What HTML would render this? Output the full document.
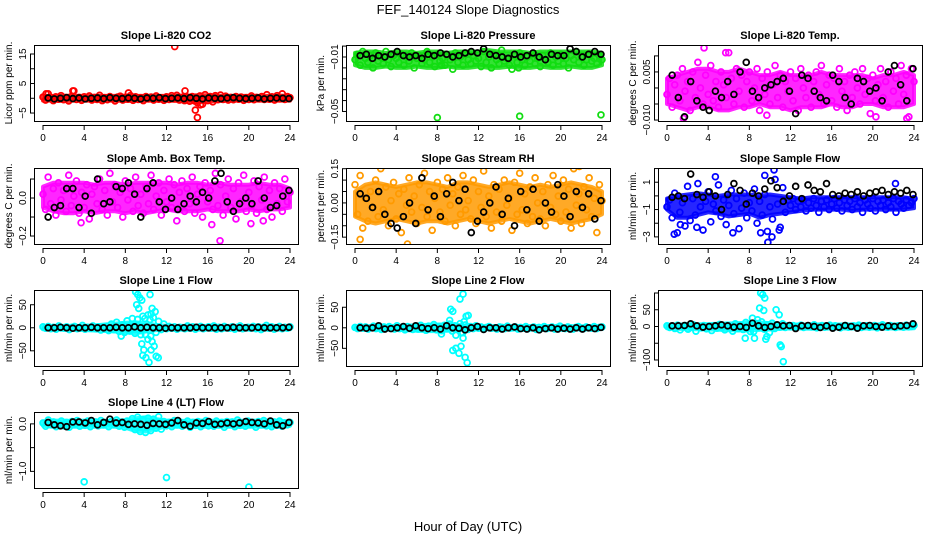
<!DOCTYPE html>
<html><head><meta charset="utf-8">
<style>
html,body{margin:0;padding:0;background:#fff;}
svg{display:block;font-family:"Liberation Sans",Arial,sans-serif;}
</style></head>
<body>
<svg id="chart" width="936" height="540" viewBox="0 0 936 540" xmlns="http://www.w3.org/2000/svg">
<text x="468" y="14" text-anchor="middle" font-size="13">FEF_140124  Slope Diagnostics</text>
<text x="468" y="531" text-anchor="middle" font-size="13">Hour of Day (UTC)</text>
</svg>
<script>
// ---------- data ----------
const xTicks = [0,4,8,12,16,20,24];

const co2Color = [0.4,-0.6,1.5,0.2,-0.8,0.5,-0.3,0.9,-0.5,0.2,-0.9,0.6,2.5,-0.4,0.3,-0.7,0.5,-0.2,0.8,-0.6,0.3,-0.4,1.0,-0.8,
0.2,-0.5,0.6,-0.2,-0.9,0.4,0.7,-0.6,0.3,-0.3,0.9,-0.7,0.5,-0.4,0.2,-0.8,0.6,-0.2,0.4,-0.6,0.8,-0.3,0.1,-0.7,
0.5,-0.4,0.9,-0.2,1.0,-0.6,0.3,-0.8,0.4,-1.0,0.6,-0.9,-1.5,0.8,-2.0,1.2,-0.8,0.6,-1.2,0.9,-0.5,1.1,-0.4,0.7,
-0.6,0.3,-0.5,0.6,-0.3,0.4,-0.7,0.2,-0.4,0.8,-0.5,0.3,-0.2,0.6,-0.4,1.2,-0.3,0.5,-0.6,0.9,-0.2,1.5,-0.4,0.6,0.2];
const co2Black = [0.1,-0.2,0,0.2,-0.1,0.1,-0.2,0,0.1,-0.1,0.2,0,-0.1,0.1,0,-0.2,0.1,0,0.2,-0.1,0,0.1,-0.1,0.2,0,-0.2,0.1,0,-0.1,0.1,0.2,0,-0.1,0,0.1,-0.2,0,0.1,0,-0.1];
const co2OutH = [12.8,2.9,8.3,13.8,14.8,15.0,15.3,0.3];
const co2OutV = [17.5,2.5,1.8,2.5,-4.0,-6.5,-2.2,1.5];
const co2BandHi = [0.8,0.8,0.9,0.8,0.8,0.8,0.8,0.8,0.9,0.8,0.8,0.8,0.8,0.9,0.9,1.0,1.0,0.9,0.8,0.8,0.8,0.8,0.8,0.9,0.8];
const co2BandLo = [-0.8,-0.8,-0.9,-0.8,-0.8,-0.8,-0.8,-0.8,-0.9,-0.8,-0.8,-0.8,-0.8,-0.9,-1.2,-1.4,-1.2,-0.9,-0.8,-0.8,-0.8,-0.8,-0.8,-0.8,-0.8];

const presColor = [-0.012,-0.008,-0.016,-0.006,-0.011,-0.014,-0.009,-0.018,-0.007,-0.013,-0.010,-0.015,-0.006,-0.012,-0.017,-0.009,-0.011,-0.014,-0.008,-0.016,-0.010,-0.013,-0.007,-0.018,
-0.011,-0.009,-0.015,-0.012,-0.006,-0.014,-0.010,-0.017,-0.008,-0.013,-0.011,-0.016,-0.009,-0.012,-0.019,-0.007,-0.014,-0.010,-0.016,-0.008,-0.012,-0.015,-0.009,-0.013,
-0.011,-0.017,-0.006,-0.014,-0.010,-0.018,-0.008,-0.012,-0.015,-0.005,-0.013,-0.011,-0.016,-0.019,-0.009,-0.014,-0.007,-0.012,-0.016,-0.010,-0.013,-0.008,-0.015,-0.011,
-0.017,-0.009,-0.012,-0.014,-0.007,-0.016,-0.010,-0.013,-0.008,-0.015,-0.011,-0.018,-0.009,-0.012,-0.006,-0.014,-0.010,-0.016,-0.012,-0.008,-0.013,-0.011,-0.015,-0.009,-0.012];
const presBlack = [-0.009,-0.008,-0.011,-0.009,-0.010,-0.008,-0.006,-0.009,-0.010,-0.009,-0.011,-0.008,-0.009,-0.007,-0.008,-0.010,-0.009,-0.007,-0.006,-0.007,-0.004,-0.008,-0.009,-0.010,-0.011,-0.008,-0.010,-0.009,-0.007,-0.010,-0.012,-0.008,-0.009,-0.009,-0.004,-0.006,-0.010,-0.008,-0.006,-0.008];
const presOutH = [8.0,16.0,23.9,15.9,8.4];
const presOutV = [-0.0545,-0.0535,-0.0525,-0.018,-0.016];
const presBandHi = [-0.007,-0.006,-0.006,-0.007,-0.006,-0.006,-0.007,-0.006,-0.006,-0.007,-0.006,-0.006,-0.006,-0.005,-0.006,-0.006,-0.006,-0.007,-0.006,-0.006,-0.006,-0.006,-0.006,-0.006,-0.007];
const presBandLo = [-0.016,-0.018,-0.018,-0.017,-0.018,-0.018,-0.017,-0.018,-0.018,-0.017,-0.018,-0.018,-0.017,-0.018,-0.018,-0.017,-0.018,-0.018,-0.017,-0.018,-0.018,-0.017,-0.018,-0.018,-0.016];

const tempColor = [-0.002,0.003,-0.006,0.001,0.004,-0.004,0.006,-0.001,0.002,-0.007,0.005,-0.003,0.008,0.000,-0.005,0.004,-0.002,0.007,-0.004,0.002,-0.006,0.005,0.001,-0.003,
0.011,0.003,-0.005,0.006,-0.001,0.004,-0.006,0.002,0.005,-0.004,0.000,0.006,-0.007,0.003,-0.002,0.005,-0.005,0.001,0.007,-0.003,0.004,-0.006,0.002,-0.001,
0.005,-0.004,0.003,-0.007,0.006,0.000,-0.003,0.004,-0.006,0.002,0.005,-0.002,0.007,-0.005,0.001,0.004,-0.004,0.003,-0.006,0.006,-0.001,0.002,-0.007,0.004,
-0.003,0.005,0.000,-0.005,0.006,-0.002,0.003,-0.008,0.004,-0.004,0.001,0.006,-0.003,0.002,-0.006,0.005,-0.001,0.003,-0.005,0.007,-0.002,0.004,-0.009,0.006,0.002];
const tempBlack = [0.004,-0.003,-0.009,0.002,-0.004,-0.006,-0.007,-0.001,-0.003,0.002,-0.002,0.005,0.008,-0.001,-0.003,0.000,0.001,0.002,0.003,-0.001,-0.008,0.004,0.003,-0.001,-0.003,-0.004,0.004,0.002,-0.003,-0.005,0.003,0.002,-0.001,0.000,-0.004,0.005,0.007,0.001,-0.004,0.006];
const tempOutH = [3.6,5.7,1.6,23.3,20.3,9.7];
const tempOutV = [0.0125,0.011,-0.0095,-0.0095,-0.009,-0.0085];
const tempBandHi = [0.003,0.004,0.005,0.006,0.006,0.005,0.005,0.006,0.005,0.004,0.004,0.005,0.004,0.004,0.004,0.005,0.004,0.004,0.004,0.004,0.003,0.004,0.004,0.005,0.004];
const tempBandLo = [-0.005,-0.006,-0.007,-0.006,-0.006,-0.007,-0.007,-0.006,-0.006,-0.005,-0.006,-0.006,-0.007,-0.006,-0.006,-0.006,-0.005,-0.006,-0.006,-0.005,-0.005,-0.006,-0.006,-0.006,-0.005];

const ambColor = [0.02,-0.06,0.11,-0.03,0.05,-0.09,0.08,-0.01,0.04,-0.07,0.12,-0.04,0.01,0.09,-0.08,0.03,-0.05,0.07,-0.11,0.02,0.06,-0.03,0.10,-0.06,
0.04,-0.09,0.13,-0.02,0.07,-0.05,0.03,-0.10,0.09,-0.01,0.05,-0.07,0.11,-0.04,0.02,-0.08,0.06,-0.03,0.12,-0.06,0.01,0.08,-0.09,0.04,
-0.02,0.10,-0.05,0.07,-0.12,0.03,0.09,-0.07,0.05,-0.03,0.11,-0.08,0.02,0.06,-0.10,0.08,-0.02,0.04,-0.06,0.13,-0.04,0.07,-0.09,0.01,
0.10,-0.05,0.05,-0.11,0.08,-0.02,0.12,-0.07,0.03,-0.04,0.09,-0.08,0.06,-0.01,0.11,-0.06,0.04,-0.10,0.08,-0.03,0.05,-0.07,0.10,-0.02,0.03];
const ambBlack = [-0.1,-0.05,-0.04,0.05,0.05,-0.05,0.01,-0.08,0.1,-0.03,-0.02,0.06,0.05,0.08,0.02,-0.1,0.05,0.08,-0.02,-0.06,0.0,-0.06,-0.03,0.01,-0.02,0.03,0.0,0.09,0.13,-0.02,-0.07,-0.03,0.0,-0.03,0.09,0.0,-0.05,-0.04,0.01,0.04];
const ambOutH = [17.2,3.7,20.2,16.4,21.4,9.7];
const ambOutV = [-0.225,-0.13,-0.135,-0.14,-0.12,0.21];
const ambBandHi = [0.06,0.08,0.08,0.08,0.08,0.07,0.08,0.08,0.07,0.08,0.08,0.08,0.08,0.07,0.08,0.08,0.07,0.08,0.07,0.07,0.07,0.08,0.07,0.07,0.05];
const ambBandLo = [-0.05,-0.07,-0.08,-0.08,-0.07,-0.08,-0.07,-0.07,-0.08,-0.07,-0.08,-0.07,-0.06,-0.07,-0.07,-0.07,-0.06,-0.07,-0.07,-0.07,-0.06,-0.07,-0.06,-0.06,-0.05];

const rhColor = [0.08,-0.05,0.12,-0.11,0.02,-0.08,0.05,-0.02,0.10,-0.06,0.15,-0.03,0.07,-0.10,0.01,0.09,-0.07,0.04,-0.13,0.06,-0.01,0.11,-0.04,0.03,
-0.09,0.08,-0.02,0.13,-0.06,0.05,-0.12,0.02,0.09,-0.04,0.06,-0.08,0.11,-0.01,0.04,-0.10,0.07,-0.05,0.12,-0.03,0.01,-0.07,0.10,-0.09,
0.05,-0.02,0.14,-0.06,0.03,-0.11,0.08,-0.04,0.06,-0.08,0.10,-0.01,0.02,-0.12,0.09,-0.05,0.13,-0.03,0.04,-0.09,0.07,-0.06,0.11,0.00,
-0.07,0.05,-0.10,0.08,-0.02,0.12,-0.05,0.03,-0.08,0.10,-0.04,0.06,-0.11,0.15,-0.01,0.04,-0.09,0.07,-0.03,0.11,-0.06,0.02,-0.13,0.08,0.01];
const rhBlack = [0.04,0.02,-0.02,0.05,-0.05,-0.09,-0.11,-0.06,0.0,-0.09,0.11,-0.03,0.03,-0.06,0.04,0.09,0.01,0.06,-0.13,-0.08,-0.04,0.0,0.07,-0.05,0.02,-0.10,0.05,-0.03,0.06,-0.08,0.0,-0.04,0.08,0.03,-0.06,0.05,-0.02,0.04,-0.07,0.01];
const rhOutH = [0.5,5.1,1.3,21.8];
const rhOutV = [-0.16,-0.18,0.17,0.16];
const rhBandHi = [0.05,0.08,0.09,0.08,0.07,0.08,0.09,0.09,0.08,0.07,0.09,0.09,0.08,0.07,0.08,0.09,0.08,0.07,0.08,0.07,0.08,0.09,0.08,0.07,0.05];
const rhBandLo = [-0.06,-0.08,-0.09,-0.08,-0.07,-0.08,-0.09,-0.08,-0.08,-0.09,-0.08,-0.07,-0.08,-0.09,-0.08,-0.07,-0.08,-0.09,-0.08,-0.07,-0.08,-0.09,-0.08,-0.07,-0.05];

const flowColor = [-0.8,-0.3,-1.6,0.2,-2.7,-1.2,-0.5,-2.2,0.7,-1.8,-0.2,-1.4,0.9,-0.8,-2.5,-0.4,0.3,-1.9,-0.6,-1.1,0.8,-1.5,-0.3,-2.1,
-0.7,0.4,-1.3,-0.2,-2.4,-0.9,0.2,-1.6,-0.5,-1.1,0.5,-2.0,-0.4,-1.4,0.1,-2.6,-0.8,-1.7,1.2,-0.6,-2.3,0.6,-1.2,-0.3,
-0.7,-0.2,-1.0,-0.4,-0.8,-0.3,-1.1,-0.5,-0.9,-0.2,-0.7,-1.2,-0.4,-0.8,-0.3,-1.0,-0.6,-0.2,-0.9,-0.5,-1.1,-0.3,-0.7,-0.4,
-1.0,-0.2,-0.8,-0.5,-1.2,-0.3,-0.6,-0.9,-0.2,-1.1,-0.4,-0.7,-0.3,-1.0,-0.5,-0.8,-0.2,-1.2,-0.4,-0.6,-0.9,-0.3,-0.7,-0.5,-0.2];
const flowBlack = [-0.1,0.0,-0.2,1.6,0.1,-0.1,0.3,0.0,-1.0,0.1,0.9,0.4,-0.6,0.2,0.0,0.5,1.1,0.6,-0.4,0.0,0.7,-0.2,0.8,0.4,0.3,0.9,0.1,0.0,0.2,0.1,0.3,0.0,0.2,0.3,0.4,0.1,0.3,0.2,0.4,0.1];
const flowOutH = [9.5,10.4,9.8,10.2,10.9,9.1,0.7,6.4,22.2,4.7,1.3,2.9];
const flowOutV = [1.5,1.9,-3.4,-3.0,-2.5,-2.7,-2.8,-2.7,0.9,1.4,-2.1,-2.3];
const flowBandHi = [-0.2,0.0,0.1,0.2,0.1,0.0,0.1,0.1,0.1,0.0,0.1,0.0,-0.1,-0.2,-0.1,-0.1,-0.1,-0.1,-0.1,-0.1,-0.1,-0.1,-0.1,-0.1,-0.2];
const flowBandLo = [-1.0,-1.6,-1.6,-1.4,-1.2,-1.3,-1.5,-1.4,-1.3,-1.6,-1.4,-1.3,-1.2,-1.1,-1.0,-1.0,-1.0,-1.0,-1.1,-1.0,-1.0,-1.0,-1.0,-1.0,-0.9];

const l1Color = [2,-1,3,-2,1,-3,4,0,-1,2,-4,1,3,-2,0,5,-3,1,-1,4,-2,2,-5,1,
3,-6,8,-4,12,-8,6,-10,15,-7,20,-12,18,-5,25,-15,28,-18,22,-10,14,-4,8,-2,
3,-1,2,-3,1,0,-2,4,-1,2,-3,1,3,-2,0,2,-1,4,-3,1,-2,3,0,-1,
2,-3,1,4,-2,0,1,-1,3,-2,2,-4,1,5,-1,2,-3,0,3,-2,1,-1,2];
const l1Black = [0,0,1,0,-1,0,0,1,0,0,0,1,0,0,2,0,1,0,0,-1,0,0,0,0,1,0,0,0,0,0,1,0,0,0,1,0,0,0,0,1];
const l1OutH = [9.0,9.2,9.4,9.6,10.4,10.6,10.9,10.5,9.1,9.3,9.5,9.6,9.8,9.7,10.0,10.3,10.5,10.8,11.0,11.2,10.2,10.6,10.4,9.9,7.6];
const l1OutV = [78,72,65,60,72,42,35,30,50,42,-15,-35,-48,-60,-65,-75,-48,-40,-62,-65,-25,-30,18,20,-18];
const l1BandHi = [3,4,4,4,4,5,7,9,11,12,10,6,4,4,4,4,4,4,4,4,4,4,4,4,3];
const l1BandLo = [-3,-4,-4,-4,-5,-6,-7,-8,-10,-12,-8,-5,-4,-4,-4,-4,-4,-4,-4,-4,-4,-4,-4,-4,-3];

const l2Color = [1,-2,3,-1,2,-3,0,4,-2,1,-4,2,0,3,-1,-3,5,-2,1,-5,3,0,-4,2,
-3,6,-1,-6,4,-2,8,-5,3,-7,6,-2,9,-8,5,-3,10,-12,7,-4,3,-2,5,-1,
2,-2,1,3,-1,0,-3,2,1,-2,4,-1,0,2,-3,1,-1,3,-2,0,2,-4,1,-1,
3,-2,0,2,-3,1,4,-1,-2,2,0,-3,1,3,-1,-2,2,0,-1,3,-2,1,2];
const l2Black = [0,-1,0,5,-3,-2,0,3,-1,5,0,-2,0,-3,5,0,-1,-5,0,3,-4,0,0,-3,0,2,-2,-3,0,-5,-2,0,-3,-1,-3,0,-3,0,-2,1];
const l2OutH = [10.5,10.2,9.3,9.5,10.8,11.0,10.6,10.3,10.5,9.5,9.8,10.3,10.1,10.7,10.9,9.2,8.4,9.8];
const l2OutV = [82,70,45,40,28,30,15,-12,-25,-55,-50,-45,-62,-72,-85,18,-15,-18];
const l2BandHi = [3,4,4,4,5,5,6,7,8,8,7,5,4,4,4,4,4,4,4,4,4,4,4,4,3];
const l2BandLo = [-3,-4,-4,-5,-5,-6,-7,-8,-8,-7,-6,-5,-4,-4,-4,-4,-4,-4,-4,-4,-4,-4,-4,-4,-3];

const l3Color = [2,-3,1,-6,4,-10,0,3,-8,-2,5,-14,1,-4,3,-7,0,-12,2,-5,6,-3,-10,4,
-2,-14,8,-6,3,-9,12,-3,6,-15,9,-4,14,-8,5,-18,10,-6,4,-2,8,-3,2,-1,
3,-2,1,4,-3,0,2,-1,5,-4,1,3,-2,-1,4,-3,2,0,-4,1,3,-2,0,2,
-1,4,-3,1,2,-2,0,3,-4,1,5,-1,-2,3,0,-3,2,1,-2,4,-1,0,3];
const l3Black = [2,2,3,8,2,-2,0,2,5,2,-2,0,-3,10,2,-3,0,5,2,3,-6,2,3,0,-3,2,-5,-2,3,0,-5,2,3,0,-2,2,0,2,3,8];
const l3OutH = [9.1,9.3,9.5,9.0,9.4,10.6,10.9,7.6,8.5,9.6,11.0,11.1,11.3,8.1,8.8,8.3,9.7];
const l3OutV = [100,95,85,55,48,50,35,-35,-35,-38,-55,-60,-105,-15,20,25,-30];
const l3BandHi = [5,6,6,6,7,8,9,10,12,12,10,7,6,6,6,6,6,6,6,6,6,6,6,6,5];
const l3BandLo = [-5,-7,-8,-8,-9,-10,-11,-12,-12,-10,-9,-7,-6,-6,-7,-6,-6,-6,-6,-6,-6,-6,-6,-6,-5];

const l4Color = [0.02,-0.05,0.08,-0.02,0.04,-0.06,0.01,0.06,-0.04,0.03,-0.07,0.05,-0.01,0.07,-0.05,0.02,-0.03,0.06,-0.06,0.01,0.04,-0.04,0.07,-0.02,
0.03,-0.06,0.05,-0.01,0.08,-0.05,0.02,-0.07,0.06,-0.03,0.11,-0.12,0.14,-0.16,0.09,-0.18,0.12,-0.14,0.10,-0.09,0.15,-0.11,0.05,-0.04,
0.03,-0.06,0.07,-0.02,0.04,-0.05,0.01,0.06,-0.07,0.03,-0.03,0.05,-0.06,0.02,0.07,-0.04,0.01,-0.05,0.06,-0.02,0.03,-0.07,0.05,-0.01,
0.04,-0.06,0.08,-0.03,0.02,-0.05,0.06,-0.01,0.03,-0.07,0.05,-0.02,0.07,-0.04,0.01,-0.06,0.04,-0.03,0.06,-0.05,0.02,-0.02,0.03];
const l4Black = [0.03,-0.02,-0.04,-0.06,0.04,0.04,0.02,0.07,-0.02,0.03,0.1,0.02,0.03,-0.01,0,-0.01,-0.03,0.01,0,-0.01,0.02,0.07,-0.02,-0.05,0.02,0.01,0.05,-0.01,0.0,0.02,0.0,0.02,0.05,0.03,0.02,0.0,0.06,-0.02,-0.04,0.03];
const l4OutH = [4.0,12.0,20.0];
const l4OutV = [-1.22,-1.13,-1.33];
const l4BandHi = [0.05,0.07,0.07,0.06,0.07,0.07,0.06,0.07,0.08,0.12,0.14,0.10,0.07,0.07,0.06,0.07,0.07,0.06,0.07,0.07,0.06,0.07,0.07,0.06,0.05];
const l4BandLo = [-0.04,-0.06,-0.06,-0.06,-0.06,-0.06,-0.06,-0.06,-0.08,-0.15,-0.16,-0.10,-0.06,-0.06,-0.06,-0.06,-0.06,-0.06,-0.06,-0.06,-0.06,-0.06,-0.06,-0.06,-0.04];

// ---------- panel layout ----------
const panels = [
 {name:'co2',title:'Slope Li-820 CO2',ylab:'Licor ppm per min.',col:0,row:0,ymax:18.05,ymin:-7.7,ticks:[-5,0,5,10,15],labels:[-5,5,15],fmt:v=>v<0?'\u2212'+(-v):''+v,color:'#ff0000',c:co2Color,b:co2Black,oh:co2OutH,ov:co2OutV,hi:co2BandHi,lo:co2BandLo},
 {name:'pressure',title:'Slope Li-820 Pressure',ylab:'kPa per min.',col:1,row:0,ymax:-0.0012,ymin:-0.057,ticks:[-0.002,-0.01,-0.018,-0.026,-0.034,-0.042,-0.05],labels:[-0.01,-0.05],fmt:v=>'\u2212'+(-v).toFixed(2),color:'#11dd11',c:presColor,b:presBlack,oh:presOutH,ov:presOutV,hi:presBandHi,lo:presBandLo},
 {name:'li820-temp',title:'Slope Li-820 Temp.',ylab:'degrees C per min.',col:2,row:0,ymax:0.0134,ymin:-0.0103,ticks:[0.01,0.005,0,-0.005,-0.01],labels:[0.005,-0.01],fmt:v=>v<0?'\u2212'+(-v).toFixed(3):v.toFixed(3),color:'#ff00ff',c:tempColor,b:tempBlack,oh:tempOutH,ov:tempOutV,hi:tempBandHi,lo:tempBandLo},
 {name:'amb-box-temp',title:'Slope Amb. Box Temp.',ylab:'degrees C per min.',col:0,row:1,ymax:0.158,ymin:-0.242,ticks:[0.1,0,-0.1,-0.2],labels:[0,-0.2],fmt:v=>v<0?'\u2212'+(-v).toFixed(1):v.toFixed(1),color:'#ff00ff',c:ambColor,b:ambBlack,oh:ambOutH,ov:ambOutV,hi:ambBandHi,lo:ambBandLo},
 {name:'gas-stream-rh',title:'Slope Gas Stream RH',ylab:'percent per min.',col:1,row:1,ymax:0.153,ymin:-0.18,ticks:[0.15,0.1,0.05,0,-0.05,-0.1,-0.15],labels:[0.15,0,-0.15],fmt:v=>v<0?'\u2212'+(-v).toFixed(2):v.toFixed(2),color:'#ff9a00',c:rhColor,b:rhBlack,oh:rhOutH,ov:rhOutV,hi:rhBandHi,lo:rhBandLo},
 {name:'sample-flow',title:'Slope Sample Flow',ylab:'ml/min per min.',col:2,row:1,ymax:2.04,ymin:-3.52,ticks:[2,1,0,-1,-2,-3],labels:[1,-1,-3],fmt:v=>v<0?'\u2212'+(-v):''+v,color:'#0000ff',c:flowColor,b:flowBlack,oh:flowOutH,ov:flowOutV,hi:flowBandHi,lo:flowBandLo},
 {name:'line1-flow',title:'Slope Line 1 Flow',ylab:'ml/min per min.',col:0,row:2,ymax:82,ymin:-83,ticks:[50,0,-50],labels:[50,0,-50],fmt:v=>v<0?'\u2212'+(-v):''+v,color:'#00ffff',c:l1Color,b:l1Black,oh:l1OutH,ov:l1OutV,hi:l1BandHi,lo:l1BandLo},
 {name:'line2-flow',title:'Slope Line 2 Flow',ylab:'ml/min per min.',col:1,row:2,ymax:92,ymin:-93,ticks:[50,0,-50],labels:[50,0,-50],fmt:v=>v<0?'\u2212'+(-v):''+v,color:'#00ffff',c:l2Color,b:l2Black,oh:l2OutH,ov:l2OutV,hi:l2BandHi,lo:l2BandLo},
 {name:'line3-flow',title:'Slope Line 3 Flow',ylab:'ml/min per min.',col:2,row:2,ymax:109,ymin:-118,ticks:[100,50,0,-50,-100],labels:[50,0,-100],fmt:v=>v<0?'\u2212'+(-v):''+v,color:'#00ffff',c:l3Color,b:l3Black,oh:l3OutH,ov:l3OutV,hi:l3BandHi,lo:l3BandLo},
 {name:'line4-flow',title:'Slope Line 4 (LT) Flow',ylab:'ml/min per min.',col:0,row:3,ymax:0.25,ymin:-1.35,ticks:[0,-0.5,-1],labels:[0,-1],fmt:v=>v<0?'\u2212'+(-v).toFixed(1):v.toFixed(1),color:'#00ffff',c:l4Color,b:l4Black,oh:l4OutH,ov:l4OutV,hi:l4BandHi,lo:l4BandLo}
];
const colLeft = [34,346,658], rowTop = [45,168,290,412], PW = 264, PH = 76;
const NS = 'http://www.w3.org/2000/svg';
const svg = document.getElementById('chart');
function mk(tag, attrs, parent){ const e=document.createElementNS(NS,tag); for(const k in attrs) e.setAttribute(k,attrs[k]); (parent||svg).appendChild(e); return e; }

panels.forEach(p=>{
  const L=colLeft[p.col], T=rowTop[p.row];
  const g = mk('g',{});
  
  
  const xs = h => L + 9 + h*247/24;
  const ys = v => T + (p.ymax - v)/(p.ymax - p.ymin)*PH;
  const cid='clip-'+p.name;
  const cp=mk('clipPath',{id:cid},g); mk('rect',{x:L,y:T,width:PW,height:PH},cp);
  const pts = mk('g',{'clip-path':'url(#'+cid+')'},g);
  
  
  // dense cloud envelope
  const nb=p.hi.length;
  let d='';
  p.hi.forEach((v,i)=>{ d+=(i?'L':'M')+xs(i*24/(nb-1)).toFixed(1)+','+ys(v).toFixed(1); });
  for(let i=nb-1;i>=0;i--){ d+='L'+xs(i*24/(nb-1)).toFixed(1)+','+ys(p.lo[i]).toFixed(1); }
  d+='Z';
  const band=mk('path',{d:d,fill:p.color,stroke:p.color,'stroke-width':4,'stroke-linejoin':'round','fill-opacity':0.85,'stroke-opacity':0.85},pts);
  
  
  const n=p.c.length;
  p.c.forEach((v,i)=>{
    const c=mk('circle',{cx:xs(i*24/(n-1)),cy:ys(v),r:2.9,fill:'none',stroke:p.color,'stroke-width':1.8},pts);
    
    
  });
  p.oh.forEach((h,i)=>{
    const c=mk('circle',{cx:xs(h),cy:ys(p.ov[i]),r:2.9,fill:'none',stroke:p.color,'stroke-width':1.8},pts);
    
    
  });
  const m=p.b.length;
  p.b.forEach((v,i)=>{
    const c=mk('circle',{cx:xs(0.5+i*23.4/(m-1)),cy:ys(v),r:2.9,fill:'none',stroke:'#000','stroke-width':1.8},pts);
    
    
  });
  const box=mk('rect',{x:L+0.5,y:T+0.5,width:PW,height:PH,fill:'none',stroke:'#000','stroke-width':1},g);
  
  
  const t=mk('text',{x:L+PW/2,y:T-6,'text-anchor':'middle','font-size':11,'font-weight':'bold'},g);
  t.textContent=p.title;
  
  
  const ax=mk('line',{x1:xs(0),x2:xs(24),y1:T+PH+4.5,y2:T+PH+4.5,stroke:'#000'},g);
  
  
  xTicks.forEach(h=>{
    mk('line',{x1:xs(h),x2:xs(h),y1:T+PH+4,y2:T+PH+9,stroke:'#000'},g);
    const tl=mk('text',{x:xs(h),y:T+PH+20,'text-anchor':'middle','font-size':10},g);
    tl.textContent=h;
    
    
  });
  p.ticks.forEach(v=>{ mk('line',{x1:L-4,x2:L,y1:ys(v),y2:ys(v),stroke:'#000'},g); });
  mk('line',{x1:L-4+0.5,x2:L-4+0.5,y1:ys(p.ticks[0]),y2:ys(p.ticks[p.ticks.length-1]),stroke:'#000'},g);
  p.labels.forEach(v=>{
    const tl=mk('text',{x:0,y:0,'text-anchor':'middle','font-size':10,transform:'translate('+(L-8)+','+ys(v)+') rotate(-90)'},g);
    tl.textContent=p.fmt(v);
    
    
  });
  const yl=mk('text',{x:0,y:0,'text-anchor':'middle','font-size':10,transform:'translate('+(L-22)+','+(T+PH/2)+') rotate(-90)'},g);
  yl.textContent=p.ylab;
  
  
});
</script>
</body></html>
